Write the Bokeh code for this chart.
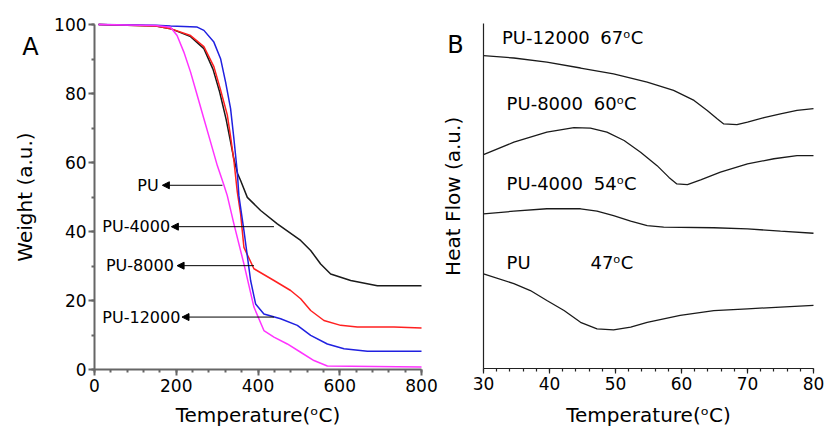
import math
from bokeh.plotting import figure
from bokeh.layouts import row
from bokeh.models import FixedTicker, Label, Arrow, NormalHead, Range1d
from bokeh.embed import file_html
from bokeh.resources import INLINE

FONT = "DejaVu Sans"

# ---------------- Panel A : TGA ----------------
pu_T = [10, 150, 186, 202, 218.6, 235, 251.4, 267.6, 284, 300.4, 316.5, 324.8, 341, 365.5,
        390, 414.4, 439, 471.7, 504.3, 536.8, 569.6, 800]
pu_W = [100, 99.7, 99.2, 96.8, 92.0, 86.2, 79.4, 72.7, 65.9, 59.1, 53.5, 50.4, 42.2, 30.6,
        18.1, 11.3, 9.4, 7.4, 5.0, 2.6, 1.0, 0.7]

pu4000_T = [10, 150, 186, 235, 267.6, 290, 306, 322, 332, 341, 350, 357.4, 373.8, 406.4,
            447.2, 504.3, 528.8, 553.2, 577.7, 626.7, 692, 800]
pu4000_W = [100, 99.6, 98.8, 96.5, 93.0, 87.0, 80.5, 72.5, 66.5, 61.0, 56.8, 54.8, 49.9, 46.1,
            42.2, 37.4, 34.5, 30.6, 27.7, 25.8, 24.3, 24.3]

pu8000_T = [10, 150, 186, 235, 267.6, 292, 308.4, 324.8, 332.9, 341, 349.3, 357.4, 365.5,
            390, 439, 479.8, 504.3, 528.8, 561.3, 602.2, 643, 732.7, 800]
pu8000_W = [100, 99.6, 98.8, 96.8, 93.6, 87.8, 81.0, 73.8, 67.5, 60.5, 51.5, 45.1, 35.4,
            29.2, 25.8, 22.9, 20.5, 17.1, 14.2, 12.8, 12.3, 12.3, 12.0]

pu12000_T = [10, 150, 186, 250, 267.6, 292, 308.4, 320.7, 332.9, 341, 349.3, 353.2, 365.5,
             381.9, 394.1, 414.4, 455.3, 496.2, 528.8, 569.6, 610.3, 667.6, 800]
pu12000_W = [100, 99.8, 99.6, 99.3, 98.3, 94.9, 90.1, 83.3, 75.6, 66.9, 57.2, 50.4, 40.3,
             25.8, 19.0, 16.1, 14.7, 12.8, 9.9, 7.4, 6.0, 5.3, 5.3]

a_labels = ["PU", "PU-4000", "PU-8000", "PU-12000"]
a_label_right = [157, 185, 194, 210]
a_arrow_tip = [166, 188, 202, 214]
a_arrow_tail = [313, 439, 390, 439]
a_arrow_y = [53.4, 41.4, 30.1, 15.2]
a_ticks = [0, 200, 400, 600, 800]
a_yticks = [0, 20, 40, 60, 80, 100]

# ---------------- Panel B : DSC ----------------
b12000_T = [30, 34.6, 39.6, 44.7, 49.7, 54.8, 58.8, 61.9, 63.9, 65.4, 66.4, 68.4, 70.0,
            72.5, 75, 77.5, 80]
b12000_H = [90.7, 90.0, 88.8, 87.1, 85.4, 83.0, 80.6, 77.7, 74.8, 72.4, 70.9, 70.7, 71.4,
            72.7, 73.8, 74.8, 75.3]

b8000_T = [30, 34.6, 39.6, 43.7, 46.2, 48.7, 51.3, 53.8, 56.3, 58.1, 59.3, 60.9, 62.9,
           65.9, 70, 74, 77.5, 80]
b8000_H = [62.0, 65.6, 68.5, 69.8, 69.7, 68.5, 66.1, 62.7, 58.8, 55.4, 53.5, 53.3, 54.7,
           56.9, 59.3, 60.8, 61.7, 61.7]

b4000_T = [30, 34.6, 39.6, 44.7, 47.2, 49.7, 52.3, 54.8, 57.3, 64.9, 70, 75, 80]
b4000_H = [44.8, 45.6, 46.3, 46.3, 45.6, 44.3, 42.7, 41.4, 41.0, 40.8, 40.5, 39.8, 39.2]

bpu_T = [30, 34.6, 37.1, 39.6, 42.2, 44.7, 47.2, 49.7, 52.3, 54.8, 59.8, 64.9, 70, 75, 80]
bpu_H = [27.4, 24.6, 22.6, 19.7, 16.8, 13.4, 11.5, 11.2, 12.0, 13.4, 15.4, 16.8, 17.3,
         17.8, 18.3]

b_names = ["PU-12000", "PU-8000", "PU-4000", "PU"]
b_name_x = [32.8, 33.5, 33.5, 33.5]
b_temps = ["67ᵒC", "60ᵒC", "54ᵒC", "47ᵒC"]
b_temp_x = [47.7, 46.7, 46.7, 46.2]
b_label_y = [95.9, 76.8, 53.6, 30.7]
b_ticks = [30, 40, 50, 60, 70, 80]

TITLE = "Temperature(ᵒC)"


def style_axes(p, axis_color, axis_width):
    for ax in (p.xaxis[0], p.yaxis[0]):
        ax.axis_line_color = axis_color
        ax.axis_line_width = axis_width
        ax.major_tick_line_color = axis_color
        ax.minor_tick_line_color = axis_color
        ax.major_tick_line_width = axis_width
        ax.minor_tick_line_width = axis_width
        ax.major_tick_in = 0
        ax.major_tick_out = 6
        ax.minor_tick_in = 0
        ax.minor_tick_out = 3
        ax.major_label_text_font = FONT
        ax.major_label_text_font_size = "17px"
        ax.major_label_text_color = "black"


def add_text(p, x, y, text, size, align="center", angle=0.0):
    p.add_layout(Label(x=x, y=y, text=text, angle=angle, text_align=align,
                       text_baseline="middle", text_font=FONT,
                       text_font_size=size, text_color="black"))


# The plotting frame covers the whole canvas; both axes are pinned at the data origin
# and bounded to the data span, so the panel letter and the titles can sit as labels.
pA = figure(width=439, height=430, x_range=Range1d(-230, 844), y_range=Range1d(-17.68, 106.96),
            output_backend="svg", toolbar_location=None,
            min_border_left=0, min_border_right=0, min_border_top=0, min_border_bottom=0)
pA.outline_line_color = None
pA.grid.visible = False
pA.xaxis.ticker = FixedTicker(ticks=a_ticks, minor_ticks=list(range(0, 801, 40)))
pA.yaxis.ticker = FixedTicker(ticks=a_yticks, minor_ticks=list(range(0, 101, 10)))
pA.xaxis.bounds = (a_ticks[0], a_ticks[-1])
pA.yaxis.bounds = (a_yticks[0], a_yticks[-1])
pA.xaxis.fixed_location = a_yticks[0]
pA.yaxis.fixed_location = a_ticks[0]
style_axes(pA, "#666666", 2)
pA.xaxis.major_label_standoff = 3
pA.yaxis.major_label_standoff = 2

pA.line(pu4000_T, pu4000_W, line_color="#1a1a1a", line_width=1.5)
pA.line(pu8000_T, pu8000_W, line_color="#ff2020", line_width=1.5)
pA.line(pu12000_T, pu12000_W, line_color="#2020e0", line_width=1.5)
pA.line(pu_T, pu_W, line_color="#ff33ff", line_width=1.5)

for name, xr, tip, tail, yy in zip(a_labels, a_label_right, a_arrow_tip, a_arrow_tail, a_arrow_y):
    pA.add_layout(Arrow(end=NormalHead(size=7, fill_color="black", line_color="black"),
                        x_start=tail, y_start=yy, x_end=tip, y_end=yy,
                        line_color="black", line_width=1))
    add_text(pA, xr, yy, name, "16px", align="right")

add_text(pA, -157, 93.6, "A", "24px")
add_text(pA, 400, -13.3, TITLE, "20px")
add_text(pA, -170, 50, "Weight (a.u.)", "20px", angle=math.pi / 2)

pB = figure(width=386, height=430, x_range=Range1d(23.33, 81.82), y_range=Range1d(-17.97, 106.67),
            output_backend="svg", toolbar_location=None,
            min_border_left=0, min_border_right=0, min_border_top=0, min_border_bottom=0)
pB.outline_line_color = None
pB.grid.visible = False
pB.xaxis.ticker = FixedTicker(ticks=b_ticks, minor_ticks=list(range(30, 81, 2)))
pB.yaxis.ticker = FixedTicker(ticks=[], minor_ticks=[])
pB.xaxis.bounds = (b_ticks[0], b_ticks[-1])
pB.yaxis.bounds = (0, 100)
pB.xaxis.fixed_location = 0
pB.yaxis.fixed_location = b_ticks[0]
style_axes(pB, "#222222", 1.2)
pB.xaxis.major_tick_out = 5
pB.xaxis.major_label_standoff = 3

for xs, ys in ((b12000_T, b12000_H), (b8000_T, b8000_H), (b4000_T, b4000_H), (bpu_T, bpu_H)):
    pB.line(xs, ys, line_color="#1a1a1a", line_width=1.3)

for name, nx, temp, tx, yy in zip(b_names, b_name_x, b_temps, b_temp_x, b_label_y):
    add_text(pB, nx, yy, name, "18px", align="left")
    add_text(pB, tx, yy, temp, "18px", align="left")

add_text(pB, 25.76, 93.9, "B", "24px")
add_text(pB, 55, -13.6, TITLE, "20px")
add_text(pB, 25.3, 49.9, "Heat Flow (a.u.)", "20px", angle=math.pi / 2)

layout = row(pA, pB)
open("out.html", "w").write(file_html(layout, INLINE))
